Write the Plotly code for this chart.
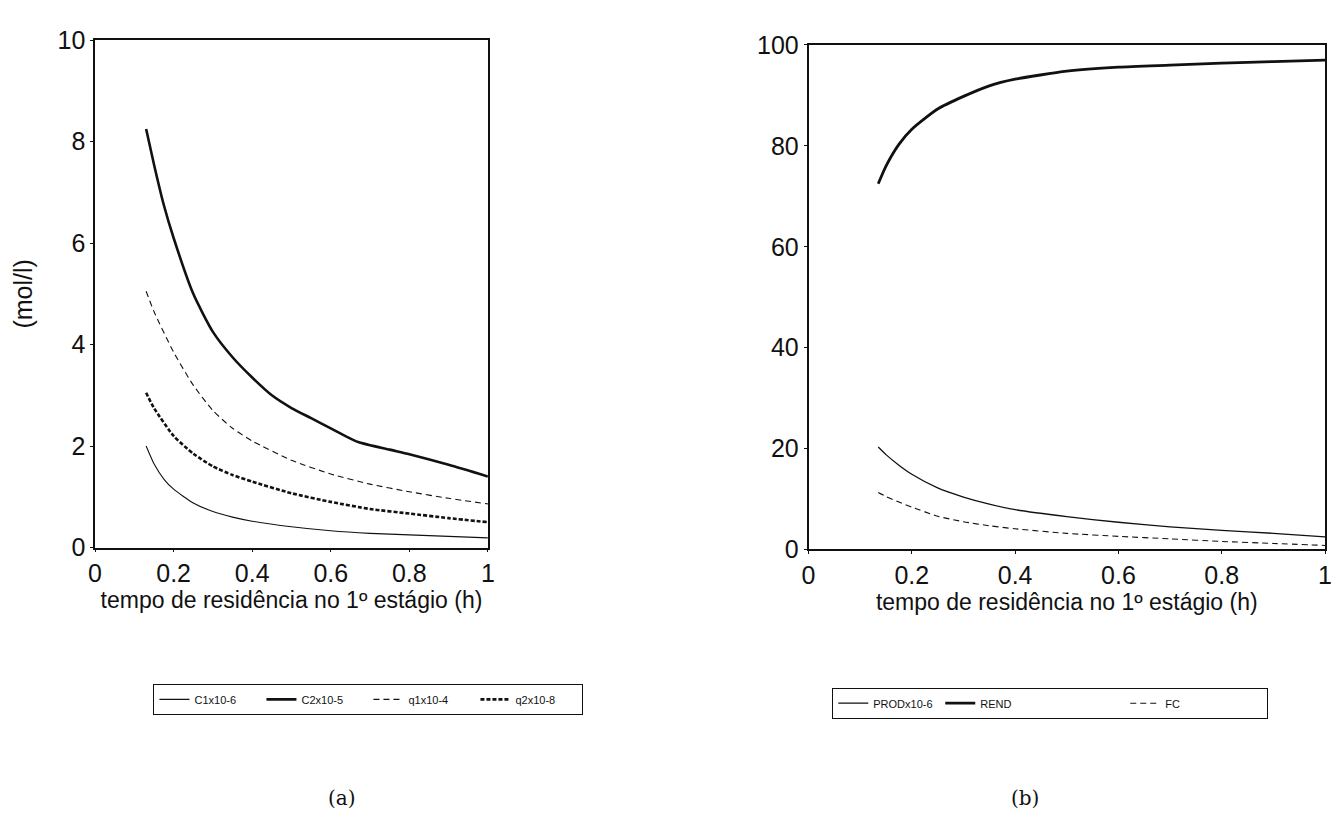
import plotly.graph_objects as go

# (a) concentrations vs residence time in the first stage
t_c1 = [0.13, 0.15, 0.175, 0.2, 0.25, 0.3, 0.35, 0.4, 0.5, 0.6, 0.7, 0.8, 0.9, 1.0]
c1 = [2.0, 1.65, 1.35, 1.15, 0.88, 0.71, 0.6, 0.52, 0.41, 0.33, 0.28, 0.25, 0.22, 0.19]

t_c2 = [0.13, 0.15, 0.175, 0.2, 0.25, 0.3, 0.35, 0.4, 0.45, 0.5, 0.55, 0.6, 0.67, 0.75, 0.8, 0.9, 1.0]
c2 = [8.25, 7.55, 6.75, 6.1, 5.0, 4.25, 3.75, 3.35, 3.0, 2.75, 2.55, 2.35, 2.08, 1.93, 1.84, 1.63, 1.4]

t_q1 = [0.13, 0.15, 0.2, 0.25, 0.3, 0.35, 0.4, 0.5, 0.6, 0.7, 0.8, 0.9, 1.0]
q1 = [5.05, 4.65, 3.85, 3.2, 2.7, 2.35, 2.1, 1.72, 1.45, 1.25, 1.1, 0.97, 0.86]

t_q2 = [0.13, 0.15, 0.2, 0.25, 0.3, 0.35, 0.4, 0.5, 0.6, 0.7, 0.8, 0.9, 1.0]
q2 = [3.05, 2.75, 2.2, 1.85, 1.6, 1.43, 1.3, 1.07, 0.9, 0.76, 0.67, 0.58, 0.5]

# (b) productivity, yield and FC
t_b = [0.135, 0.15, 0.175, 0.2, 0.25, 0.3, 0.35, 0.4, 0.5, 0.6, 0.7, 0.8, 0.9, 1.0]
rend = [72.5, 76.0, 80.3, 83.3, 87.3, 89.8, 91.9, 93.2, 94.8, 95.6, 96.0, 96.4, 96.7, 97.0]
prod = [20.3, 18.8, 16.7, 14.9, 12.2, 10.4, 9.0, 7.9, 6.5, 5.4, 4.5, 3.8, 3.2, 2.5]
fc = [11.3, 10.5, 9.4, 8.4, 6.6, 5.5, 4.7, 4.1, 3.2, 2.6, 2.1, 1.6, 1.2, 0.8]

x_ticks = [0, 0.2, 0.4, 0.6, 0.8, 1]
x_tick_text = ["0", "0.2", "0.4", "0.6", "0.8", "1"]
ya_ticks = [0, 2, 4, 6, 8, 10]
yb_ticks = [0, 20, 40, 60, 80, 100]

x_title = "tempo de residência no 1º estágio (h)"
y_title_a = "(mol/l)"

W, H = 1336, 838
FONT = "Liberation Sans, Arial, sans-serif"
SERIF = "DejaVu Serif, Liberation Serif, serif"
BLACK = "#111111"


def px_x(p):
    return p / W


def px_y(p):
    return 1 - p / H


def curve(x, y, name, width, dash, axes, legend, lw):
    return go.Scatter(x=x, y=y, mode="lines", name=name,
                      line=dict(color=BLACK, width=width, dash=dash,
                                shape="spline", smoothing=0.6),
                      xaxis=axes[0], yaxis=axes[1], legend=legend, legendwidth=lw)


fig = go.Figure()

A = ("x", "y")
B = ("x2", "y2")
fig.add_trace(curve(t_c1, c1, "C1x10-6", 1.1, "solid", A, "legend", 62))
fig.add_trace(curve(t_c2, c2, "C2x10-5", 2.6, "solid", A, "legend", 62))
fig.add_trace(curve(t_q1, q1, "q1x10-4", 1.1, "6px,4px", A, "legend", 62))
fig.add_trace(curve(t_q2, q2, "q2x10-8", 2.6, "4px,2px", A, "legend", 62))

fig.add_trace(curve(t_b, prod, "PRODx10-6", 1.3, "solid", B, "legend2", 62))
fig.add_trace(curve(t_b, rend, "REND", 2.8, "solid", B, "legend2", 140))
fig.add_trace(curve(t_b, fc, "FC", 1.1, "6px,4px", B, "legend2", 97))

axis_common = dict(showline=True, mirror=True, linecolor=BLACK, linewidth=1.5,
                   showgrid=False, zeroline=False,
                   tickfont=dict(family=FONT, size=25, color=BLACK))

xa = dict(axis_common, range=[0, 1], tickvals=x_ticks, ticktext=x_tick_text,
          ticks="outside", ticklen=3, tickwidth=1, tickcolor=BLACK,
          title=dict(text=x_title, font=dict(family=FONT, size=23, color=BLACK), standoff=2))
ya = dict(axis_common, ticks="outside", ticklen=3, tickwidth=1, tickcolor=BLACK)

legend_common = dict(orientation="h", xanchor="left", yanchor="top",
                     bordercolor=BLACK, borderwidth=1, bgcolor="white",
                     itemwidth=30, tracegroupgap=0,
                     font=dict(family=FONT, size=11, color=BLACK))

fig.update_layout(
    width=W, height=H,
    margin=dict(l=0, r=0, t=0, b=0),
    paper_bgcolor="white", plot_bgcolor="white",
    xaxis=dict(xa, domain=[px_x(89), px_x(486)], anchor="y"),
    yaxis=dict(ya, domain=[px_y(552), px_y(27)], range=[0, 10], tickvals=ya_ticks,
               anchor="x",
               title=dict(text=y_title_a, font=dict(family=FONT, size=25, color=BLACK), standoff=18)),
    xaxis2=dict(xa, domain=[px_x(810), px_x(1332)], anchor="y2"),
    yaxis2=dict(ya, domain=[px_y(554), px_y(32)], range=[0, 100], tickvals=yb_ticks, anchor="x2"),
    showlegend=True,
    legend=dict(legend_common, x=px_x(148), y=px_y(693)),
    legend2=dict(legend_common, x=px_x(834), y=px_y(697)),
    annotations=[
        dict(text="(a)", x=px_x(322), y=px_y(826), xref="paper", yref="paper",
             showarrow=False, font=dict(family=SERIF, size=20, color=BLACK)),
        dict(text="(b)", x=px_x(1045), y=px_y(826), xref="paper", yref="paper",
             showarrow=False, font=dict(family=SERIF, size=20, color=BLACK)),
    ],
)

fig.write_html("out.html")
